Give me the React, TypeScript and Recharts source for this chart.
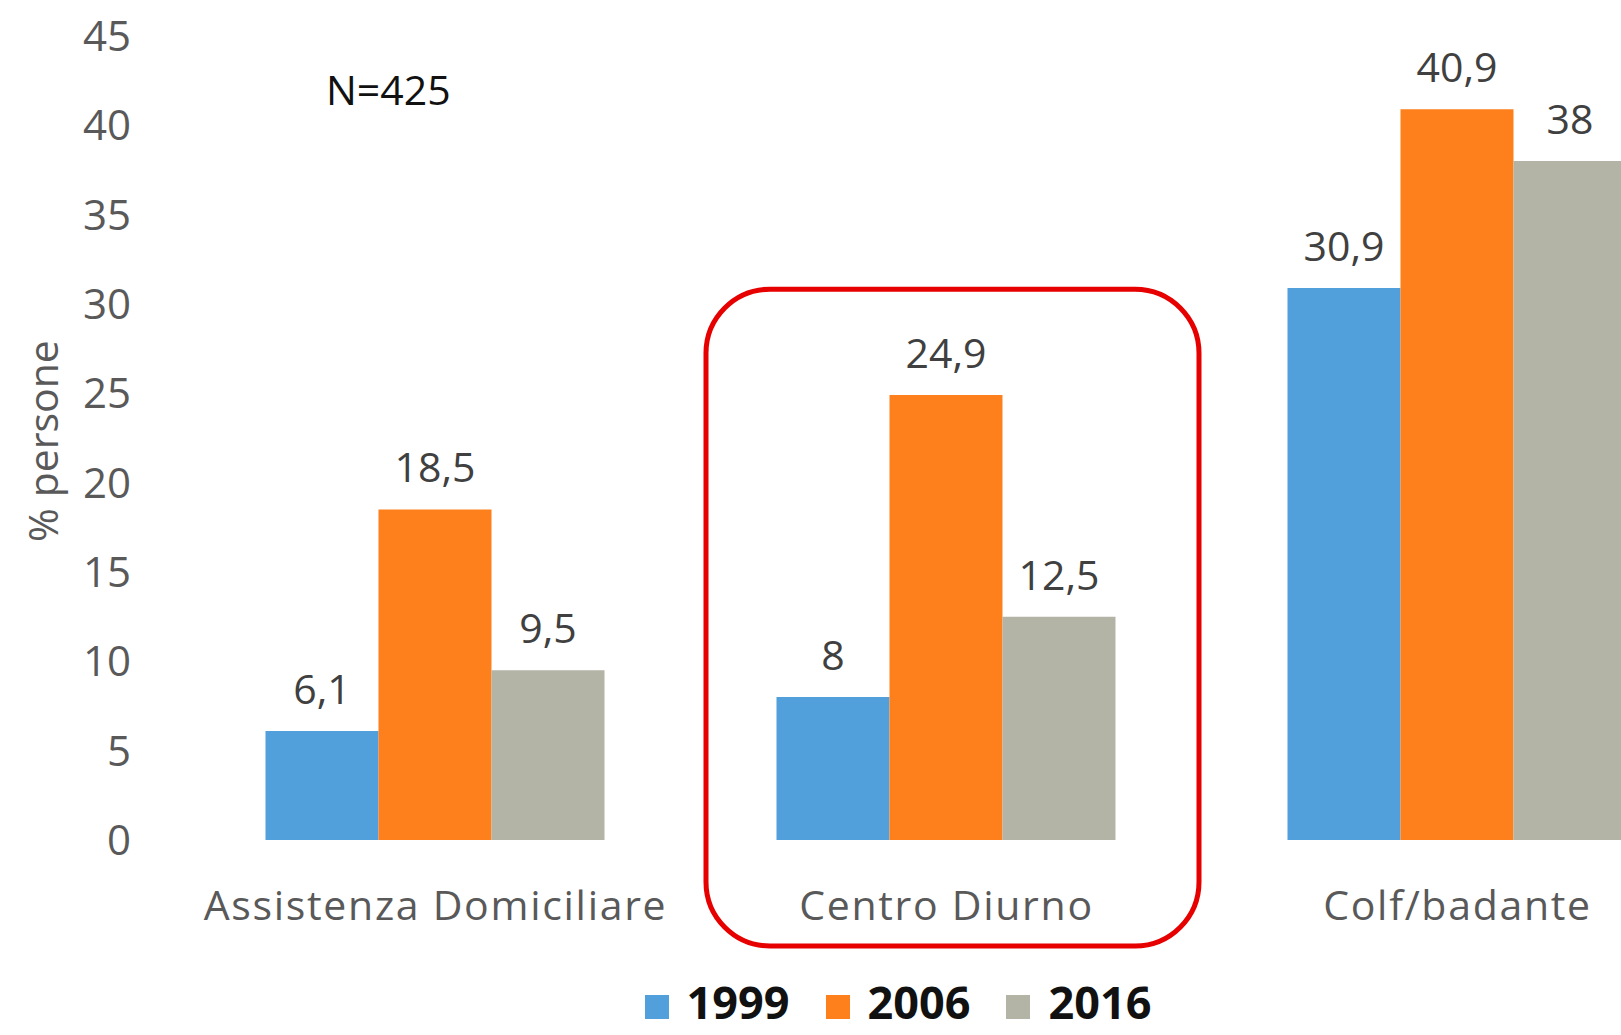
import React from "react";
import {
  Bar,
  BarChart,
  LabelList,
  Legend,
  ReferenceArea,
  XAxis,
  YAxis,
} from "recharts";

const categories = ["Assistenza Domiciliare", "Centro Diurno", "Colf/badante"];
const values1999 = [6.1, 8, 30.9];
const values2006 = [18.5, 24.9, 40.9];
const values2016 = [9.5, 12.5, 38];
const yTicks = [0, 5, 10, 15, 20, 25, 30, 35, 40, 45];

const series = [
  { key: "y1999", name: "1999", color: "#519fdb", values: values1999 },
  { key: "y2006", name: "2006", color: "#fd801d", values: values2006 },
  { key: "y2016", name: "2016", color: "#b3b3a6", values: values2016 },
];

const data = categories.map((name, i) => ({
  name,
  y1999: values1999[i],
  y2006: values2006[i],
  y2016: values2016[i],
}));

const FONT = "'Open Sans', sans-serif";
const CHART_W = 1796;
const CHART_H = 1035;

const fmt = (v: number | string) => String(v).replace(".", ",");

const LegendContent = () => (
  <div
    style={{
      height: 40,
      lineHeight: "40px",
      textAlign: "center",
      fontFamily: FONT,
      fontSize: 45,
      fontWeight: 700,
      color: "#111",
      whiteSpace: "nowrap",
    }}
  >
    {series.map((s) => (
      <span key={s.key} style={{ margin: "0 18px" }}>
        <span
          style={{
            display: "inline-block",
            width: 24,
            height: 24,
            background: s.color,
            marginRight: 18,
          }}
        />
        <span style={{ display: "inline-block", lineHeight: "36px" }}>
          {s.name}
        </span>
      </span>
    ))}
  </div>
);

const RoundedBox = (props: any) => {
  const { x, y, width, height } = props;
  return (
    <rect
      x={x + 15}
      y={y}
      width={width - 18}
      height={height}
      rx={64}
      ry={64}
      fill="none"
      stroke="#e60000"
      strokeWidth={5}
    />
  );
};

export default function App() {
  return (
    <div
      style={{
        position: "absolute",
        left: 0,
        top: 0,
        width: 1621,
        height: 1035,
        overflow: "hidden",
        background: "#fff",
      }}
    >
      <BarChart
        width={CHART_W}
        height={CHART_H}
        data={data}
        margin={{ top: 36, right: 83, bottom: 13, left: 0 }}
        barCategoryGap="16.73%"
        barGap={0}
      >
        <XAxis
          dataKey="name"
          axisLine={false}
          tickLine={false}
          tickSize={0}
          tickMargin={51}
          height={142}
          interval={0}
          tick={{
            fill: "#595959",
            fontSize: 41,
            fontFamily: FONT,
            letterSpacing: 1.7,
          }}
        />
        <YAxis
          domain={[0, 45]}
          ticks={yTicks}
          width={180}
          axisLine={false}
          tickLine={false}
          tickSize={0}
          tickMargin={49}
          tick={{ fill: "#595959", fontSize: 42, fontFamily: FONT }}
          label={{
            content: ({ viewBox }: any) => {
              const cx = viewBox.x + 42;
              const cy = viewBox.y + viewBox.height / 2 + 3;
              return (
                <text
                  x={cx}
                  y={cy}
                  transform={`rotate(-90, ${cx}, ${cy})`}
                  textAnchor="middle"
                  dominantBaseline="central"
                  fill="#595959"
                  fontSize={41}
                  fontFamily={FONT}
                >
                  % persone
                </text>
              );
            },
          }}
        />
        <Legend
          verticalAlign="bottom"
          height={40}
          content={<LegendContent />}
          wrapperStyle={{ left: 0, width: CHART_W }}
        />
        {series.map((s) => (
          <Bar
            key={s.key}
            dataKey={s.key}
            name={s.name}
            fill={s.color}
            isAnimationActive={false}
          >
            <LabelList
              dataKey={s.key}
              position="top"
              offset={27}
              formatter={fmt}
              fill="#404040"
              fontSize={41}
              fontFamily={FONT}
            />
          </Bar>
        ))}
        <ReferenceArea
          x1="Centro Diurno"
          x2="Centro Diurno"
          y1={-5.93}
          y2={30.83}
          ifOverflow="visible"
          shape={RoundedBox}
        />
      </BarChart>
      <div
        style={{
          position: "absolute",
          left: 326,
          top: 69,
          fontFamily: FONT,
          fontSize: 41,
          lineHeight: "41px",
          color: "#111",
        }}
      >
        N=425
      </div>
    </div>
  );
}
